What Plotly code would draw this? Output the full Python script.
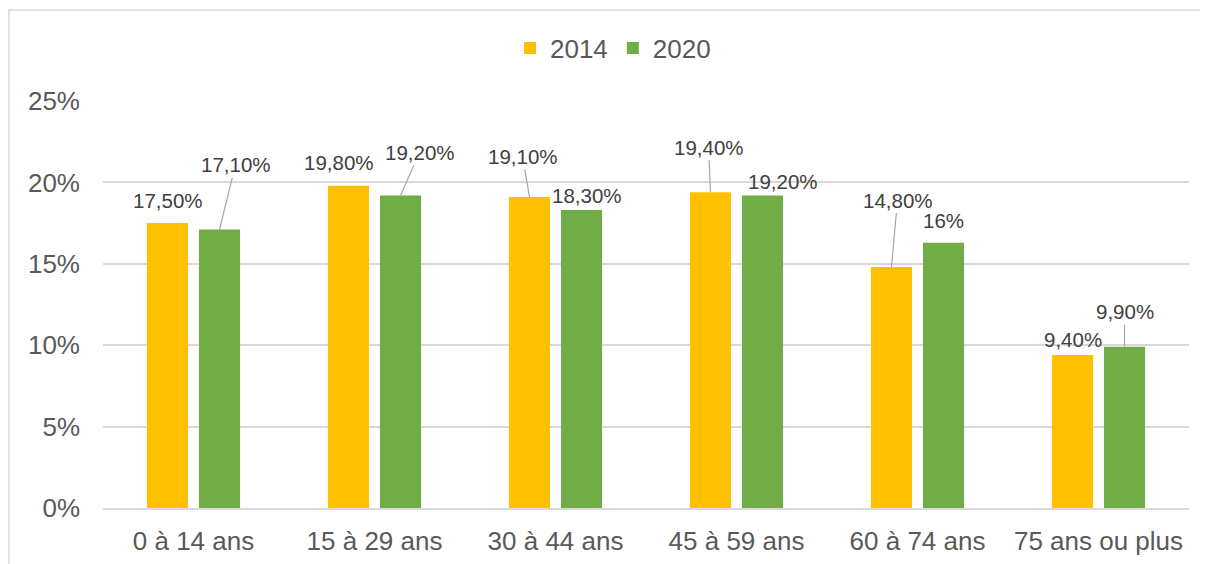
import plotly.graph_objects as go

categories = ["0 à 14 ans", "15 à 29 ans", "30 à 44 ans", "45 à 59 ans", "60 à 74 ans", "75 ans ou plus"]
values_2014 = [17.5, 19.8, 19.1, 19.4, 14.8, 9.4]
values_2020 = [17.1, 19.2, 18.3, 19.2, 16.3, 9.9]
labels_2014 = ["17,50%", "19,80%", "19,10%", "19,40%", "14,80%", "9,40%"]
labels_2020 = ["17,10%", "19,20%", "18,30%", "19,20%", "16%", "9,90%"]
y_ticks = [0, 5, 10, 15, 20, 25]
y_tick_labels = ["0%", "5%", "10%", "15%", "20%", "25%"]

# label placement (pixel offsets of label centre from bar top centre) and leader flags
off_2014 = [(0, -23, False), (-10, -23, False), (-7, -41, True), (-2, -45, True), (6, -67, True), (0, -15, False)]
off_2020 = [(16, -65, True), (19, -43, True), (5, -15, False), (20, -14, False), (0, -22, False), (0, -35, True)]

FONT = "Liberation Sans, Arial, sans-serif"
C14 = "#FFC000"
C20 = "#70AD47"

fig = go.Figure()
fig.add_trace(go.Bar(name="2014", x=categories, y=values_2014, marker=dict(color=C14, line=dict(width=0))))
fig.add_trace(go.Bar(name="2020", x=categories, y=values_2020, marker=dict(color=C20, line=dict(width=0))))

annotations = []
for vals, labs, offs, shift in ((values_2014, labels_2014, off_2014, -26), (values_2020, labels_2020, off_2020, 26)):
    for cat, v, lab, (dx, dy, leader) in zip(categories, vals, labs, offs):
        if leader:
            annotations.append(dict(
                x=cat, y=v, xref="x", yref="y", text=lab, xshift=shift,
                showarrow=True, arrowhead=0, arrowwidth=1.2, arrowcolor="#A6A6A6",
                ax=dx, ay=dy, axref="pixel", ayref="pixel", standoff=0,
                font=dict(family=FONT, size=20.5, color="#404040"),
            ))
        else:
            annotations.append(dict(
                x=cat, y=v, xref="x", yref="y", text=lab,
                xshift=shift + dx, yshift=-dy, showarrow=False,
                xanchor="center", yanchor="middle",
                font=dict(family=FONT, size=20.5, color="#404040"),
            ))

fig.update_layout(
    width=1200, height=556,
    margin=dict(l=95, r=19, t=93, b=56, autoexpand=False),
    paper_bgcolor="white", plot_bgcolor="white",
    barmode="group", bargap=0.425, bargroupgap=0.21,
    font=dict(family=FONT, size=26, color="#595959"),
    legend=dict(orientation="h", x=0.4696, xanchor="center", y=1.13, yanchor="middle",
                font=dict(family=FONT, size=26, color="#595959"), bgcolor="rgba(0,0,0,0)"),
    annotations=annotations,
    shapes=[dict(type="rect", xref="paper", yref="paper", x0=-0.0866, x1=1.2, y0=-0.5, y1=1.2236,
                 line=dict(color="#D9D9D9", width=1.5), fillcolor="rgba(0,0,0,0)", layer="below")],
)
fig.update_yaxes(range=[0, 25], tickvals=y_ticks, ticktext=y_tick_labels, showgrid=True,
                 gridcolor="#D9D9D9", gridwidth=1.5, zeroline=False, showline=False,
                 ticks="", ticklabelstandoff=22, automargin=False,
                 tickfont=dict(family=FONT, size=26, color="#595959"))
fig.update_xaxes(showline=True, linecolor="#D9D9D9", linewidth=1.5, ticks="",
                 ticklabelstandoff=9, automargin=False,
                 tickfont=dict(family=FONT, size=26, color="#595959"))

fig.write_html("out.html")
